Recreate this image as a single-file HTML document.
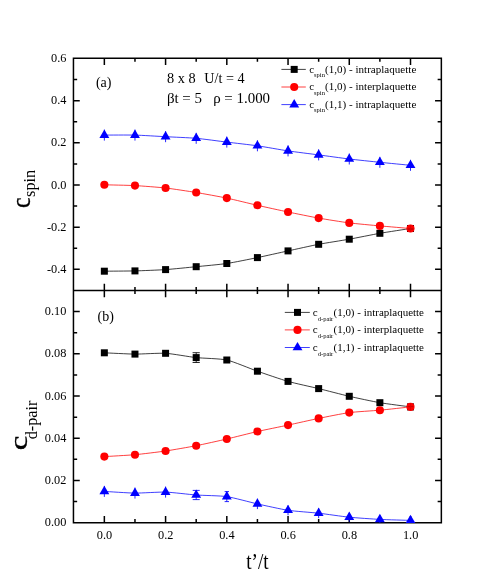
<!DOCTYPE html>
<html><head><meta charset="utf-8"><title>chart</title>
<style>
html,body{margin:0;padding:0;background:#fff;}
body{width:491px;height:581px;overflow:hidden;font-family:"Liberation Serif",serif;}
svg{display:block;will-change:transform;}
text{font-family:"Liberation Serif",serif;fill:#000;}
</style></head><body>
<svg width="491" height="581" viewBox="0 0 491 581">
<rect width="491" height="581" fill="#fff"/>

<path d="M73.45,58.2 H441.35 V522.7 H73.45 Z M73.45,290.5 H441.35 M104.35,58.2 v6.8 M104.35,283.7 v13.6 M104.35,522.7 v-6.8 M134.97,58.2 v3.6 M134.97,286.9 v7.2 M134.97,522.7 v-3.6 M165.58,58.2 v6.8 M165.58,283.7 v13.6 M165.58,522.7 v-6.8 M196.19,58.2 v3.6 M196.19,286.9 v7.2 M196.19,522.7 v-3.6 M226.81,58.2 v6.8 M226.81,283.7 v13.6 M226.81,522.7 v-6.8 M257.42,58.2 v3.6 M257.42,286.9 v7.2 M257.42,522.7 v-3.6 M288.04,58.2 v6.8 M288.04,283.7 v13.6 M288.04,522.7 v-6.8 M318.65,58.2 v3.6 M318.65,286.9 v7.2 M318.65,522.7 v-3.6 M349.27,58.2 v6.8 M349.27,283.7 v13.6 M349.27,522.7 v-6.8 M379.88,58.2 v3.6 M379.88,286.9 v7.2 M379.88,522.7 v-3.6 M410.50,58.2 v6.8 M410.50,283.7 v13.6 M410.50,522.7 v-6.8 M73.45,269.30 h6.3 M441.35,269.30 h-6.3 M73.45,248.22 h3.7 M441.35,248.22 h-3.7 M73.45,227.15 h6.3 M441.35,227.15 h-6.3 M73.45,206.07 h3.7 M441.35,206.07 h-3.7 M73.45,185.00 h6.3 M441.35,185.00 h-6.3 M73.45,163.93 h3.7 M441.35,163.93 h-3.7 M73.45,142.85 h6.3 M441.35,142.85 h-6.3 M73.45,121.78 h3.7 M441.35,121.78 h-3.7 M73.45,100.70 h6.3 M441.35,100.70 h-6.3 M73.45,79.62 h3.7 M441.35,79.62 h-3.7 M73.45,501.59 h3.7 M441.35,501.59 h-3.7 M73.45,480.47 h6.3 M441.35,480.47 h-6.3 M73.45,459.36 h3.7 M441.35,459.36 h-3.7 M73.45,438.24 h6.3 M441.35,438.24 h-6.3 M73.45,417.13 h3.7 M441.35,417.13 h-3.7 M73.45,396.01 h6.3 M441.35,396.01 h-6.3 M73.45,374.90 h3.7 M441.35,374.90 h-3.7 M73.45,353.78 h6.3 M441.35,353.78 h-6.3 M73.45,332.67 h3.7 M441.35,332.67 h-3.7 M73.45,311.55 h6.3 M441.35,311.55 h-6.3" fill="none" stroke="#000" stroke-width="1.5" stroke-linecap="butt" stroke-linejoin="miter"/>
<g fill="none" stroke-linejoin="round">
<path d="M104.35,271.20 C107.41,271.17 128.84,271.06 134.97,270.90 C141.09,270.74 159.46,270.02 165.58,269.60 C171.70,269.18 190.07,267.31 196.19,266.70 C202.32,266.09 220.69,264.41 226.81,263.50 C232.93,262.59 251.30,258.86 257.42,257.60 C263.55,256.34 281.92,252.23 288.04,250.90 C294.16,249.57 312.53,245.47 318.65,244.30 C324.78,243.13 343.15,240.30 349.27,239.20 C355.39,238.10 373.76,234.37 379.88,233.30 C386.01,232.23 407.44,228.98 410.50,228.50" stroke="#000" stroke-width="0.75"/>
<path d="M104.35,184.80 C107.41,184.88 128.84,185.28 134.97,185.60 C141.09,185.92 159.46,187.31 165.58,188.00 C171.70,188.69 190.07,191.49 196.19,192.50 C202.32,193.51 220.69,196.82 226.81,198.10 C232.93,199.38 251.30,203.91 257.42,205.30 C263.55,206.69 281.92,210.72 288.04,212.00 C294.16,213.28 312.53,217.01 318.65,218.10 C324.78,219.19 343.15,222.12 349.27,222.90 C355.39,223.68 373.76,225.34 379.88,225.90 C386.01,226.46 407.44,228.24 410.50,228.50" stroke="#f00" stroke-width="0.75"/>
<path d="M104.35,135.10 C107.41,135.10 128.84,134.94 134.97,135.10 C141.09,135.26 159.46,136.38 165.58,136.70 C171.70,137.02 190.07,137.76 196.19,138.30 C202.32,138.84 220.69,141.35 226.81,142.10 C232.93,142.85 251.30,144.92 257.42,145.80 C263.55,146.68 281.92,149.99 288.04,150.90 C294.16,151.81 312.53,154.09 318.65,154.90 C324.78,155.71 343.15,158.26 349.27,159.00 C355.39,159.74 373.76,161.67 379.88,162.30 C386.01,162.93 407.44,165.00 410.50,165.30" stroke="#00f" stroke-width="0.75"/>
<path d="M104.35,352.80 C107.41,352.93 128.84,354.05 134.97,354.10 C141.09,354.15 159.46,352.95 165.58,353.30 C171.70,353.65 190.07,356.93 196.19,357.60 C202.32,358.27 220.69,358.64 226.81,360.00 C232.93,361.36 251.30,369.06 257.42,371.20 C263.55,373.34 281.92,379.66 288.04,381.40 C294.16,383.14 312.53,387.11 318.65,388.60 C324.78,390.09 343.15,394.89 349.27,396.30 C355.39,397.71 373.76,401.64 379.88,402.70 C386.01,403.76 407.44,406.48 410.50,406.90" stroke="#000" stroke-width="0.75"/>
<path d="M104.35,456.60 C107.41,456.41 128.84,455.26 134.97,454.70 C141.09,454.14 159.46,451.90 165.58,451.00 C171.70,450.10 190.07,446.90 196.19,445.70 C202.32,444.50 220.69,440.42 226.81,439.00 C232.93,437.58 251.30,432.89 257.42,431.50 C263.55,430.11 281.92,426.41 288.04,425.10 C294.16,423.79 312.53,419.65 318.65,418.40 C324.78,417.15 343.15,413.42 349.27,412.60 C355.39,411.78 373.76,410.77 379.88,410.20 C386.01,409.63 407.44,407.23 410.50,406.90" stroke="#f00" stroke-width="0.75"/>
<path d="M104.35,491.40 C107.41,491.57 128.84,493.03 134.97,493.10 C141.09,493.17 159.46,491.91 165.58,492.10 C171.70,492.29 190.07,494.55 196.19,495.00 C202.32,495.45 220.69,495.71 226.81,496.60 C232.93,497.49 251.30,502.53 257.42,503.90 C263.55,505.27 281.92,509.37 288.04,510.30 C294.16,511.23 312.53,512.51 318.65,513.20 C324.78,513.89 343.15,516.58 349.27,517.20 C355.39,517.82 373.76,519.08 379.88,519.40 C386.01,519.72 407.44,520.30 410.50,520.40" stroke="#00f" stroke-width="0.75"/>
</g>
<clipPath id="cp"><rect x="73.45" y="58.2" width="367.90000000000003" height="464.80000000000007"/></clipPath>
<g clip-path="url(#cp)">
<rect x="100.85" y="267.70" width="7.0" height="7.0" fill="#000"/>
<rect x="131.47" y="267.40" width="7.0" height="7.0" fill="#000"/>
<rect x="162.08" y="266.10" width="7.0" height="7.0" fill="#000"/>
<rect x="192.69" y="263.20" width="7.0" height="7.0" fill="#000"/>
<rect x="223.31" y="260.00" width="7.0" height="7.0" fill="#000"/>
<rect x="253.92" y="254.10" width="7.0" height="7.0" fill="#000"/>
<rect x="284.54" y="247.40" width="7.0" height="7.0" fill="#000"/>
<rect x="315.15" y="240.80" width="7.0" height="7.0" fill="#000"/>
<rect x="345.77" y="235.70" width="7.0" height="7.0" fill="#000"/>
<rect x="376.38" y="229.80" width="7.0" height="7.0" fill="#000"/>
<rect x="407.00" y="225.00" width="7.0" height="7.0" fill="#000"/>
<circle cx="104.35" cy="184.80" r="4.05" fill="#f00"/>
<circle cx="134.97" cy="185.60" r="4.05" fill="#f00"/>
<circle cx="165.58" cy="188.00" r="4.05" fill="#f00"/>
<circle cx="196.19" cy="192.50" r="4.05" fill="#f00"/>
<circle cx="226.81" cy="198.10" r="4.05" fill="#f00"/>
<circle cx="257.42" cy="205.30" r="4.05" fill="#f00"/>
<circle cx="288.04" cy="212.00" r="4.05" fill="#f00"/>
<circle cx="318.65" cy="218.10" r="4.05" fill="#f00"/>
<circle cx="349.27" cy="222.90" r="4.05" fill="#f00"/>
<circle cx="379.88" cy="225.90" r="4.05" fill="#f00"/>
<circle cx="410.50" cy="228.50" r="4.05" fill="#f00"/>
<rect x="407.50" y="228.30" width="6" height="1.5" fill="#c40000"/>
<path d="M410.50,224.90 v7.2" stroke="#d80000" stroke-width="0.7"/>
<path d="M104.35,129.60 V140.60" stroke="#00f" stroke-width="0.85" fill="none"/>
<path d="M104.35,129.50 L109.30,137.90 L99.40,137.90Z" fill="#00f"/>
<path d="M134.97,129.60 V140.60" stroke="#00f" stroke-width="0.85" fill="none"/>
<path d="M134.97,129.50 L139.91,137.90 L130.02,137.90Z" fill="#00f"/>
<path d="M165.58,131.20 V142.20" stroke="#00f" stroke-width="0.85" fill="none"/>
<path d="M165.58,131.10 L170.53,139.50 L160.63,139.50Z" fill="#00f"/>
<path d="M196.19,132.80 V143.80" stroke="#00f" stroke-width="0.85" fill="none"/>
<path d="M196.19,132.70 L201.14,141.10 L191.25,141.10Z" fill="#00f"/>
<path d="M226.81,136.60 V147.60" stroke="#00f" stroke-width="0.85" fill="none"/>
<path d="M226.81,136.50 L231.76,144.90 L221.86,144.90Z" fill="#00f"/>
<path d="M257.42,140.30 V151.30" stroke="#00f" stroke-width="0.85" fill="none"/>
<path d="M257.42,140.20 L262.37,148.60 L252.47,148.60Z" fill="#00f"/>
<path d="M288.04,145.40 V156.40" stroke="#00f" stroke-width="0.85" fill="none"/>
<path d="M288.04,145.30 L292.99,153.70 L283.09,153.70Z" fill="#00f"/>
<path d="M318.65,149.40 V160.40" stroke="#00f" stroke-width="0.85" fill="none"/>
<path d="M318.65,149.30 L323.60,157.70 L313.70,157.70Z" fill="#00f"/>
<path d="M349.27,153.50 V164.50" stroke="#00f" stroke-width="0.85" fill="none"/>
<path d="M349.27,153.40 L354.22,161.80 L344.32,161.80Z" fill="#00f"/>
<path d="M379.88,156.80 V167.80" stroke="#00f" stroke-width="0.85" fill="none"/>
<path d="M379.88,156.70 L384.83,165.10 L374.94,165.10Z" fill="#00f"/>
<path d="M410.50,159.80 V170.80" stroke="#00f" stroke-width="0.85" fill="none"/>
<path d="M410.50,159.70 L415.45,168.10 L405.55,168.10Z" fill="#00f"/>
<rect x="100.85" y="349.30" width="7.0" height="7.0" fill="#000"/>
<rect x="131.47" y="350.60" width="7.0" height="7.0" fill="#000"/>
<rect x="162.08" y="349.80" width="7.0" height="7.0" fill="#000"/>
<path d="M196.19,352.70 V362.50 M192.59,352.70 H199.79 M192.59,362.50 H199.79" stroke="#000" stroke-width="0.85" fill="none"/>
<rect x="192.69" y="354.10" width="7.0" height="7.0" fill="#000"/>
<rect x="223.31" y="356.50" width="7.0" height="7.0" fill="#000"/>
<rect x="253.92" y="367.70" width="7.0" height="7.0" fill="#000"/>
<rect x="284.54" y="377.90" width="7.0" height="7.0" fill="#000"/>
<rect x="315.15" y="385.10" width="7.0" height="7.0" fill="#000"/>
<rect x="345.77" y="392.80" width="7.0" height="7.0" fill="#000"/>
<rect x="376.38" y="399.20" width="7.0" height="7.0" fill="#000"/>
<rect x="407.00" y="403.40" width="7.0" height="7.0" fill="#000"/>
<circle cx="104.35" cy="456.60" r="4.05" fill="#f00"/>
<circle cx="134.97" cy="454.70" r="4.05" fill="#f00"/>
<circle cx="165.58" cy="451.00" r="4.05" fill="#f00"/>
<circle cx="196.19" cy="445.70" r="4.05" fill="#f00"/>
<circle cx="226.81" cy="439.00" r="4.05" fill="#f00"/>
<circle cx="257.42" cy="431.50" r="4.05" fill="#f00"/>
<circle cx="288.04" cy="425.10" r="4.05" fill="#f00"/>
<circle cx="318.65" cy="418.40" r="4.05" fill="#f00"/>
<circle cx="349.27" cy="412.60" r="4.05" fill="#f00"/>
<circle cx="379.88" cy="410.20" r="4.05" fill="#f00"/>
<circle cx="410.50" cy="406.90" r="4.05" fill="#f00"/>
<rect x="407.50" y="405.90" width="6" height="1.2" fill="#d00000"/>
<path d="M410.50,403.30 v7.2" stroke="#d80000" stroke-width="0.7"/>
<path d="M104.35,485.90 V496.90" stroke="#00f" stroke-width="0.85" fill="none"/>
<path d="M104.35,485.80 L109.30,494.20 L99.40,494.20Z" fill="#00f"/>
<path d="M134.97,487.60 V498.60" stroke="#00f" stroke-width="0.85" fill="none"/>
<path d="M134.97,487.50 L139.91,495.90 L130.02,495.90Z" fill="#00f"/>
<path d="M165.58,486.60 V497.60" stroke="#00f" stroke-width="0.85" fill="none"/>
<path d="M165.58,486.50 L170.53,494.90 L160.63,494.90Z" fill="#00f"/>
<path d="M196.19,490.40 V499.60 M192.69,490.40 H199.69 M192.69,499.60 H199.69" stroke="#00f" stroke-width="0.85" fill="none"/>
<path d="M196.19,489.40 L201.14,497.80 L191.25,497.80Z" fill="#00f"/>
<path d="M226.81,491.60 V501.60 M224.61,491.60 H229.01 M224.61,501.60 H229.01" stroke="#00f" stroke-width="0.85" fill="none"/>
<path d="M226.81,491.00 L231.76,499.40 L221.86,499.40Z" fill="#00f"/>
<path d="M257.42,498.70 V509.10" stroke="#00f" stroke-width="0.85" fill="none"/>
<path d="M257.42,498.30 L262.37,506.70 L252.47,506.70Z" fill="#00f"/>
<path d="M288.04,505.30 V515.30" stroke="#00f" stroke-width="0.85" fill="none"/>
<path d="M288.04,504.70 L292.99,513.10 L283.09,513.10Z" fill="#00f"/>
<path d="M318.65,508.20 V518.20" stroke="#00f" stroke-width="0.85" fill="none"/>
<path d="M318.65,507.60 L323.60,516.00 L313.70,516.00Z" fill="#00f"/>
<path d="M349.27,512.70 V521.70" stroke="#00f" stroke-width="0.85" fill="none"/>
<path d="M349.27,511.60 L354.22,520.00 L344.32,520.00Z" fill="#00f"/>
<path d="M379.88,515.40 V523.40" stroke="#00f" stroke-width="0.85" fill="none"/>
<path d="M379.88,513.80 L384.83,522.20 L374.94,522.20Z" fill="#00f"/>
<path d="M410.50,516.40 V524.40" stroke="#00f" stroke-width="0.85" fill="none"/>
<path d="M410.50,514.80 L415.45,523.20 L405.55,523.20Z" fill="#00f"/>
</g>
<g font-size="12.3" text-anchor="end">
<text x="66.4" y="272.80">-0.4</text>
<text x="66.4" y="230.65">-0.2</text>
<text x="66.4" y="188.50">0.0</text>
<text x="66.4" y="146.35">0.2</text>
<text x="66.4" y="104.20">0.4</text>
<text x="66.4" y="62.05">0.6</text>
<text x="66.4" y="526.20">0.00</text>
<text x="66.4" y="483.97">0.02</text>
<text x="66.4" y="441.74">0.04</text>
<text x="66.4" y="399.51">0.06</text>
<text x="66.4" y="357.28">0.08</text>
<text x="66.4" y="315.05">0.10</text>
</g>
<g font-size="12.3" text-anchor="middle">
<text x="104.45" y="539.0">0.0</text>
<text x="165.68" y="539.0">0.2</text>
<text x="226.91" y="539.0">0.4</text>
<text x="288.14" y="539.0">0.6</text>
<text x="349.37" y="539.0">0.8</text>
<text x="410.60" y="539.0">1.0</text>
</g>
<text x="95.9" y="87.1" font-size="14">(a)</text>
<text x="97.5" y="320.8" font-size="14">(b)</text>
<text x="167.0" y="83.4" font-size="14" textLength="28.6" lengthAdjust="spacingAndGlyphs">8 x 8</text>
<text x="204.3" y="83.4" font-size="14" textLength="40.3" lengthAdjust="spacingAndGlyphs">U/t = 4</text>
<text x="166.9" y="103.2" font-size="14" textLength="103.2" lengthAdjust="spacingAndGlyphs" xml:space="preserve">βt = 5   ρ = 1.000</text>
<text x="246.2" y="569.3" font-size="23.3" textLength="22.4" lengthAdjust="spacingAndGlyphs">t’/t</text>
<g transform="translate(29.9,208.1) rotate(-90)"><text x="0" y="0" font-size="26.3" textLength="10.6" lengthAdjust="spacingAndGlyphs" stroke="#000" stroke-width="0.35">c</text><text x="11.2" y="5.2" font-size="16" textLength="27.0" lengthAdjust="spacingAndGlyphs">spin</text></g>
<g transform="translate(27.1,450.2) rotate(-90)"><text x="0" y="0" font-size="26" textLength="14.6" lengthAdjust="spacingAndGlyphs" stroke="#000" stroke-width="0.3">c</text><text x="10.9" y="10.3" font-size="16" textLength="38.6" lengthAdjust="spacingAndGlyphs">d-pair</text></g>
<path d="M281.4,69.4 H305.8" stroke="#000" stroke-width="0.75" fill="none"/>
<rect x="290.70" y="65.90" width="7.0" height="7.0" fill="#000"/>
<text x="309.2" y="72.80" font-size="11">c</text>
<text x="314.10" y="77.00" font-size="6.6" textLength="10.8" lengthAdjust="spacingAndGlyphs">spin</text>
<text x="325.10" y="72.80" font-size="11" textLength="91.2" lengthAdjust="spacingAndGlyphs">(1,0) - intraplaquette</text>
<path d="M281.4,87.0 H305.8" stroke="#f00" stroke-width="0.75" fill="none"/>
<circle cx="294.20" cy="87.00" r="4.05" fill="#f00"/>
<text x="309.2" y="90.40" font-size="11">c</text>
<text x="314.10" y="94.60" font-size="6.6" textLength="10.8" lengthAdjust="spacingAndGlyphs">spin</text>
<text x="325.10" y="90.40" font-size="11" textLength="91.2" lengthAdjust="spacingAndGlyphs">(1,0) - interplaquette</text>
<path d="M281.4,104.6 H305.8" stroke="#00f" stroke-width="0.75" fill="none"/>
<path d="M294.20,99.00 L299.15,107.40 L289.25,107.40Z" fill="#00f"/>
<text x="309.2" y="108.00" font-size="11">c</text>
<text x="314.10" y="112.20" font-size="6.6" textLength="10.8" lengthAdjust="spacingAndGlyphs">spin</text>
<text x="325.10" y="108.00" font-size="11" textLength="91.2" lengthAdjust="spacingAndGlyphs">(1,1) - intraplaquette</text>
<path d="M284.8,312.4 H309.8" stroke="#000" stroke-width="0.75" fill="none"/>
<rect x="294.00" y="308.90" width="7.0" height="7.0" fill="#000"/>
<text x="312.8" y="315.80" font-size="11">c</text>
<text x="317.70" y="320.50" font-size="6.9" textLength="15.6" lengthAdjust="spacingAndGlyphs">d-pair</text>
<text x="333.50" y="315.80" font-size="11" textLength="90.5" lengthAdjust="spacingAndGlyphs">(1,0) - intraplaquette</text>
<path d="M284.8,329.9 H309.8" stroke="#f00" stroke-width="0.75" fill="none"/>
<circle cx="297.50" cy="329.90" r="4.05" fill="#f00"/>
<text x="312.8" y="333.30" font-size="11">c</text>
<text x="317.70" y="338.00" font-size="6.9" textLength="15.6" lengthAdjust="spacingAndGlyphs">d-pair</text>
<text x="333.50" y="333.30" font-size="11" textLength="90.5" lengthAdjust="spacingAndGlyphs">(1,0) - interplaquette</text>
<path d="M284.8,347.5 H309.8" stroke="#00f" stroke-width="0.75" fill="none"/>
<path d="M297.50,341.90 L302.45,350.30 L292.55,350.30Z" fill="#00f"/>
<text x="312.8" y="350.90" font-size="11">c</text>
<text x="317.70" y="355.60" font-size="6.9" textLength="15.6" lengthAdjust="spacingAndGlyphs">d-pair</text>
<text x="333.50" y="350.90" font-size="11" textLength="90.5" lengthAdjust="spacingAndGlyphs">(1,1) - intraplaquette</text>
</svg></body></html>
